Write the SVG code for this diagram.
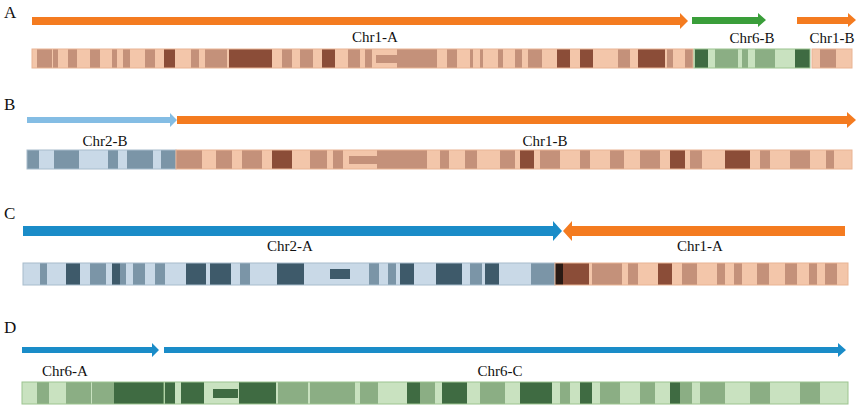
<svg xmlns="http://www.w3.org/2000/svg" width="858" height="414" viewBox="0 0 858 414">
<style>
text{font-family:"Liberation Serif",serif;fill:#111}
.pl{font-size:17px}.lb{font-size:15px}
.oL{fill:#f3c6aa}.oM{fill:#c4917a}.oD{fill:#8b4d38}
.gL{fill:#c9e2c0}.gM{fill:#8bae84}.gD{fill:#3f6b42}
.bL{fill:#c9d9e7}.bM{fill:#7b95a7}.bD{fill:#3e5a6a}
.edge{fill:none;stroke:#e9b493;stroke-width:1}
.edgeg{fill:none;stroke:#9cc48f;stroke-width:1}
.edgeb{fill:none;stroke:#a7bccc;stroke-width:1}
</style>
<rect width="858" height="414" fill="#fff"/>
<!-- Panel A -->
<text class="pl" x="4" y="18">A</text>
<polygon fill="#f47b20" points="32,17 680,17 680,13 688,21 680,29 680,25 32,25"/>
<polygon fill="#3a9e3a" points="692,17 758,17 758,13 766,20 758,27 758,24 692,24"/>
<polygon fill="#f47b20" points="797,17 848,17 848,13 856,20 848,27 848,24 797,24"/>
<text class="lb" x="375" y="42" text-anchor="middle">Chr1-A</text>
<text class="lb" x="752" y="43" text-anchor="middle">Chr6-B</text>
<text class="lb" x="832" y="43" text-anchor="middle">Chr1-B</text>
<rect class="oL" x="32" y="49" width="661" height="19"/>
<g class="oM"><rect x="37" y="49" width="15" height="19"/><rect x="53" y="49" width="5" height="19"/><rect x="68" y="49" width="9" height="19"/><rect x="90" y="49" width="10" height="19"/><rect x="112" y="49" width="5" height="19"/><rect x="123" y="49" width="7" height="19"/><rect x="145" y="49" width="10" height="19"/><rect x="191" y="49" width="8" height="19"/><rect x="205" y="49" width="22" height="19"/><rect x="282" y="49" width="10" height="19"/><rect x="300" y="49" width="13" height="19"/><rect x="348" y="49" width="12" height="19"/><rect x="365" y="49" width="7" height="19"/><rect x="397" y="49" width="40" height="19"/><rect x="447" y="49" width="10" height="19"/><rect x="470" y="49" width="3" height="19"/><rect x="480" y="49" width="3" height="19"/><rect x="498" y="49" width="5" height="19"/><rect x="515" y="49" width="7" height="19"/><rect x="528" y="49" width="14" height="19"/><rect x="618" y="49" width="12" height="19"/><rect x="667" y="49" width="6" height="19"/><rect x="685" y="49" width="8" height="19"/></g>
<g class="oD"><rect x="164" y="49" width="11" height="19"/><rect x="229" y="49" width="43" height="19"/><rect x="322" y="49" width="13" height="19"/><rect x="557" y="49" width="13" height="19"/><rect x="580" y="49" width="13" height="19"/><rect x="638" y="49" width="27" height="19"/></g>
<rect class="oL" x="376" y="49" width="21" height="19"/><rect class="oM" x="376" y="55" width="21" height="8"/>
<rect class="edge" x="32" y="49" width="661" height="19"/>
<rect class="gL" x="694" y="49" width="116" height="19"/>
<g class="gM"><rect x="715" y="49" width="23" height="19"/><rect x="742" y="49" width="6" height="19"/><rect x="755" y="49" width="20" height="19"/></g>
<g class="gD"><rect x="695" y="49" width="13" height="19"/><rect x="795" y="49" width="15" height="19"/></g>
<rect class="edgeg" x="694" y="49" width="116" height="19"/>
<rect class="oL" x="812" y="49" width="40" height="19"/><rect class="oM" x="820" y="49" width="16" height="19"/>
<rect class="edge" x="812" y="49" width="40" height="19"/>
<!-- Panel B -->
<text class="pl" x="4" y="110">B</text>
<polygon fill="#84bde4" points="27,117 170,117 170,113 177,120 170,127 170,123 27,123"/>
<polygon fill="#f47b20" points="177,116 847,116 847,112 856,120 847,128 847,124 177,124"/>
<text class="lb" x="105" y="146" text-anchor="middle">Chr2-B</text>
<text class="lb" x="545" y="146" text-anchor="middle">Chr1-B</text>
<rect class="bL" x="27" y="150" width="149" height="19"/>
<g class="bM"><rect x="27" y="150" width="12" height="19"/><rect x="54" y="150" width="25" height="19"/><rect x="108" y="150" width="10" height="19"/><rect x="127" y="150" width="26" height="19"/><rect x="161" y="150" width="15" height="19"/></g>
<rect class="edgeb" x="27" y="150" width="149" height="19"/>
<rect class="oL" x="176" y="150" width="676" height="19"/>
<g class="oM"><rect x="176" y="150" width="26" height="19"/><rect x="216" y="150" width="16" height="19"/><rect x="242" y="150" width="20" height="19"/><rect x="310" y="150" width="17" height="19"/><rect x="333" y="150" width="10" height="19"/><rect x="377" y="150" width="50" height="19"/><rect x="440" y="150" width="9" height="19"/><rect x="465" y="150" width="12" height="19"/><rect x="500" y="150" width="15" height="19"/><rect x="540" y="150" width="20" height="19"/><rect x="580" y="150" width="10" height="19"/><rect x="610" y="150" width="14" height="19"/><rect x="640" y="150" width="20" height="19"/><rect x="690" y="150" width="12" height="19"/><rect x="760" y="150" width="10" height="19"/><rect x="790" y="150" width="20" height="19"/><rect x="826" y="150" width="8" height="19"/></g>
<g class="oD"><rect x="272" y="150" width="20" height="19"/><rect x="520" y="150" width="14" height="19"/><rect x="670" y="150" width="15" height="19"/><rect x="725" y="150" width="25" height="19"/></g>
<rect class="oL" x="348" y="150" width="29" height="19"/><rect class="oM" x="349" y="156" width="28" height="8"/>
<rect class="edge" x="176" y="150" width="676" height="19"/>
<!-- Panel C -->
<text class="pl" x="4" y="219">C</text>
<polygon fill="#1a8cc8" points="23,226 553,226 553,221 562,231 553,241 553,236 23,236"/>
<polygon fill="#f47b20" points="845,226 572,226 572,221 563,231 572,241 572,236 845,236"/>
<text class="lb" x="290" y="251" text-anchor="middle">Chr2-A</text>
<text class="lb" x="700" y="251" text-anchor="middle">Chr1-A</text>
<rect class="bL" x="23" y="263" width="532" height="22"/>
<g class="bM"><rect x="40" y="263" width="7" height="22"/><rect x="90" y="263" width="16" height="22"/><rect x="120" y="263" width="6" height="22"/><rect x="133" y="263" width="12" height="22"/><rect x="155" y="263" width="10" height="22"/><rect x="240" y="263" width="10" height="22"/><rect x="369" y="263" width="10" height="22"/><rect x="388" y="263" width="8" height="22"/><rect x="470" y="263" width="12" height="22"/><rect x="531" y="263" width="24" height="22"/></g>
<g class="bD"><rect x="66" y="263" width="14" height="22"/><rect x="112" y="263" width="8" height="22"/><rect x="186" y="263" width="20" height="22"/><rect x="210" y="263" width="21" height="22"/><rect x="277" y="263" width="27" height="22"/><rect x="400" y="263" width="14" height="22"/><rect x="436" y="263" width="26" height="22"/><rect x="485" y="263" width="14" height="22"/></g>
<rect class="bL" x="330" y="263" width="20" height="22"/><rect class="bD" x="330" y="269" width="20" height="10"/>
<rect class="edgeb" x="23" y="263" width="532" height="22"/>
<rect class="oL" x="555" y="263" width="293" height="22"/>
<rect fill="#2a1a14" x="555" y="263" width="8" height="22"/>
<g class="oD"><rect x="563" y="263" width="26" height="22"/><rect x="658" y="263" width="14" height="22"/></g>
<g class="oM"><rect x="592" y="263" width="30" height="22"/><rect x="628" y="263" width="10" height="22"/><rect x="682" y="263" width="15" height="22"/><rect x="717" y="263" width="8" height="22"/><rect x="734" y="263" width="8" height="22"/><rect x="757" y="263" width="12" height="22"/><rect x="785" y="263" width="12" height="22"/><rect x="809" y="263" width="8" height="22"/><rect x="825" y="263" width="12" height="22"/></g>
<rect class="edge" x="555" y="263" width="293" height="22"/>
<!-- Panel D -->
<text class="pl" x="4" y="333">D</text>
<polygon fill="#1a8cc8" points="22,347 152,347 152,343 159,350 152,357 152,353 22,353"/>
<polygon fill="#1a8cc8" points="164,347 838,347 838,343 846,350 838,357 838,353 164,353"/>
<text class="lb" x="65" y="376" text-anchor="middle">Chr6-A</text>
<text class="lb" x="500" y="376" text-anchor="middle">Chr6-C</text>
<rect class="gL" x="22" y="382" width="826" height="22"/>
<g class="gM"><rect x="37" y="382" width="12" height="22"/><rect x="66" y="382" width="25" height="22"/><rect x="92" y="382" width="12" height="22"/><rect x="104" y="382" width="10" height="22"/><rect x="278" y="382" width="30" height="22"/><rect x="310" y="382" width="45" height="22"/><rect x="360" y="382" width="18" height="22"/><rect x="420" y="382" width="15" height="22"/><rect x="480" y="382" width="25" height="22"/><rect x="560" y="382" width="10" height="22"/><rect x="600" y="382" width="20" height="22"/><rect x="640" y="382" width="15" height="22"/><rect x="680" y="382" width="12" height="22"/><rect x="700" y="382" width="25" height="22"/><rect x="750" y="382" width="20" height="22"/><rect x="800" y="382" width="20" height="22"/></g>
<g class="gD"><rect x="114" y="382" width="50" height="22"/><rect x="165" y="382" width="10" height="22"/><rect x="181" y="382" width="23" height="22"/><rect x="239" y="382" width="37" height="22"/><rect x="407" y="382" width="13" height="22"/><rect x="442" y="382" width="25" height="22"/><rect x="520" y="382" width="32" height="22"/><rect x="580" y="382" width="12" height="22"/><rect x="670" y="382" width="10" height="22"/></g>
<rect class="gL" x="213" y="382" width="25" height="22"/><rect class="gD" x="213" y="389" width="25" height="9"/>
<rect class="edgeg" x="22" y="382" width="826" height="22"/>
<line x1="164" y1="382" x2="164" y2="404" stroke="#9cc48f"/>
</svg>
